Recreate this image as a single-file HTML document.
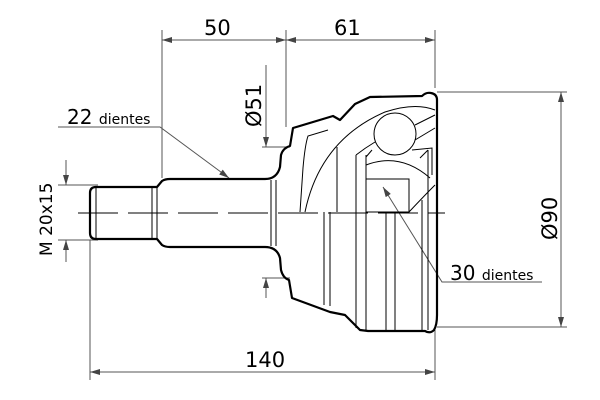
<!DOCTYPE html>
<html><head><style>
html,body{margin:0;padding:0;background:#fff;}
svg{display:block;font-family:"DejaVu Sans","Liberation Sans",sans-serif;}
</style></head><body>
<svg width="600" height="400" viewBox="0 0 600 400" xmlns="http://www.w3.org/2000/svg">
<defs>
<marker id="a" viewBox="0 0 10 6" refX="10" refY="3" markerWidth="12" markerHeight="6" markerUnits="userSpaceOnUse" orient="auto-start-reverse"><path d="M0,0L10,3L0,6z" fill="#444"/></marker>
</defs>
<g stroke="#555" stroke-width="1" fill="none">
<line x1="162" y1="30" x2="162" y2="178"/>
<line x1="286" y1="30" x2="286" y2="127"/>
<line x1="435" y1="30" x2="435" y2="88"/>
<line x1="90" y1="240" x2="90" y2="380"/>
<line x1="435" y1="330" x2="435" y2="380"/>
<line x1="437" y1="92" x2="567" y2="92"/>
<line x1="437" y1="327" x2="567" y2="327"/>
<line x1="58" y1="185" x2="98" y2="185"/>
<line x1="58" y1="240" x2="98" y2="240"/>
<line x1="262" y1="147" x2="290" y2="147"/>
<line x1="262" y1="278" x2="290" y2="278"/>
<line x1="162" y1="40" x2="286" y2="40" marker-start="url(#a)" marker-end="url(#a)"/>
<line x1="286" y1="40" x2="435" y2="40" marker-start="url(#a)" marker-end="url(#a)"/>
<line x1="90" y1="372" x2="435" y2="372" marker-start="url(#a)" marker-end="url(#a)"/>
<line x1="561" y1="92" x2="561" y2="327" marker-start="url(#a)" marker-end="url(#a)"/>
<line x1="266" y1="65" x2="266" y2="147" marker-end="url(#a)"/>
<line x1="266" y1="298" x2="266" y2="278" marker-end="url(#a)"/>
<line x1="66" y1="160" x2="66" y2="185" marker-end="url(#a)"/>
<line x1="66" y1="262" x2="66" y2="240" marker-end="url(#a)"/>
<polyline points="58,127 160,127 229,178" marker-end="url(#a)"/>
<polyline points="542,282 442,282 383,187" marker-end="url(#a)"/>
</g>
<g stroke="#000" stroke-width="2.2" fill="none" stroke-linejoin="round">
<path d="M157,187 L96,187 Q90,187 90,193 L90,233 Q90,239 96,239 L157,239 L162,245 Q165,247 170,247 L265,247 Q277,247 280,258 L281,270 Q283,278 289,280 L292,298 L330,312 L345,315 L360,330 L368,331 L425,331 Q430,334 434,330 Q437,325 437,315 L437,100 Q437,94 431,93 Q426,92 422,96 L370,97 L355,104 L340,120 L333,116 L293,128 L290,146 Q283,148 281,155 L280,167 Q277,179 265,179 L170,179 Q165,179 162,181 Z"/>
</g>
<g stroke="#000" stroke-width="1" fill="none">
<line x1="96" y1="187" x2="96" y2="239"/>
<line x1="152" y1="187" x2="152" y2="239"/>
<line x1="157" y1="187" x2="157" y2="239"/>
<line x1="271" y1="180" x2="271" y2="246"/>
<line x1="276" y1="180" x2="276" y2="246"/>
<path d="M300,212 L303,168 Q305,145 308,136 L328,130"/>
<path d="M305,212 Q320,140 385,112 Q415,102 435,110"/>
<line x1="337" y1="147" x2="337" y2="212"/>
<line x1="324" y1="212" x2="324" y2="305"/>
<line x1="330" y1="212" x2="330" y2="306"/>
<line x1="356" y1="155" x2="356" y2="328"/>
<line x1="366" y1="155" x2="366" y2="330"/>
<line x1="386" y1="212" x2="386" y2="330"/>
<line x1="395" y1="212" x2="395" y2="330"/>
<line x1="422" y1="200" x2="422" y2="330"/>
<line x1="428" y1="150" x2="428" y2="330"/>
<circle cx="395" cy="134" r="21"/>
<path d="M356,155 Q365,148 375,142"/>
<path d="M366,165 Q400,152 430,178"/>
<path d="M366,157 L372,150"/>
<rect x="366" y="179" width="43" height="33"/>
<path d="M415,125 L435,115 M415,140 L435,128 M412,150 L432,148 L432,175 M420,158 L428,150 M409,212 Q425,195 435,185"/>
<line x1="78" y1="213" x2="445" y2="213" stroke-dasharray="40,10"/>
</g>
<g fill="#000" font-size="21">
<text x="204" y="35">50</text>
<text x="334" y="35">61</text>
<text x="245" y="367">140</text>
<text x="67" y="124" font-size="20">22 <tspan font-size="14">dientes</tspan></text>
<text x="450" y="280" font-size="20">30 <tspan font-size="14">dientes</tspan></text>
<text transform="translate(261,127) rotate(-90)">Ø51</text>
<text transform="translate(557,240) rotate(-90)">Ø90</text>
<text transform="translate(52,256) rotate(-90)" font-size="17">M 20x15</text>
</g>
</svg>
</body></html>
